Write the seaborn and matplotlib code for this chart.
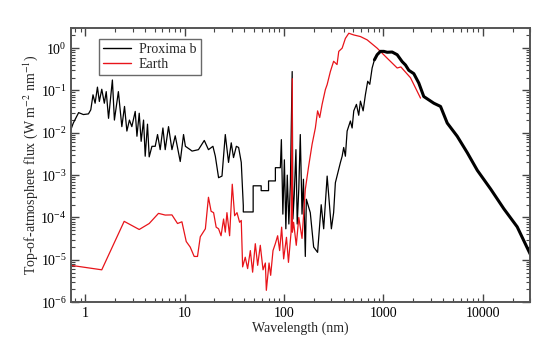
import numpy as np
import pandas as pd
import matplotlib
matplotlib.use("Agg")
import matplotlib.pyplot as plt
import matplotlib.ticker as mticker
import seaborn as sns

# ---- data ----
proxima_wl = [0.72, 0.76, 0.86, 0.96, 1.08, 1.14, 1.20, 1.26, 1.33, 1.39, 1.47, 1.56, 1.63,
              1.72, 1.88, 1.97, 2.16, 2.34, 2.49, 2.63, 2.79, 2.95, 3.19, 3.32, 3.50, 3.66,
              3.87, 4.02, 4.24, 4.41, 4.70, 5.07, 5.35, 5.69, 6.06, 6.39, 6.90, 7.47, 8.06,
              9.05, 9.77, 10.2, 11.4, 11.9, 13.8, 15.8, 17.4, 19.3, 20.4, 22.0, 23.8, 25.7,
              27.7, 29.5, 31.1, 33.2, 35.0, 37.2, 39.0, 39.0, 49.0, 49.0, 59.0, 59.0, 70.0,
              70.0, 82.0, 82.0, 92.0, 94.2, 97.5, 101, 104.5, 108, 112, 116, 121, 123, 127,
              132, 136, 141, 146, 152, 157, 164, 168, 184, 199, 218, 237, 251, 272, 300, 316,
              329, 356, 370, 385, 399, 415, 432, 466, 485, 504, 536, 565, 588, 626, 660, 696,
              730, 771, 813, 866, 935, 1010, 1092, 1226, 1377, 1546, 1670, 1803, 2024, 2272,
              2550, 3220, 3760, 4390, 5530, 6980, 8810, 12000, 16300, 22200, 30300]
proxima_flux = [0.012, 0.017, 0.030, 0.027, 0.028, 0.035, 0.079, 0.050, 0.12, 0.055, 0.107,
                0.050, 0.094, 0.022, 0.177, 0.020, 0.094, 0.014, 0.042, 0.011, 0.020, 0.014,
                0.032, 0.0083, 0.029, 0.0063, 0.020, 0.0028, 0.016, 0.0027, 0.0048, 0.0048,
                0.0091, 0.0040, 0.013, 0.0040, 0.014, 0.0040, 0.0085, 0.0021, 0.0091, 0.0048,
                0.0040, 0.0037, 0.0040, 0.0066, 0.0040, 0.0048, 0.0028, 0.00087, 0.00095,
                0.0091, 0.0020, 0.0058, 0.0026, 0.0048, 0.0045, 0.0020, 0.00019, 0.000135,
                0.000135, 0.00056, 0.00056, 0.00043, 0.00043, 0.00073, 0.00073, 0.0015, 0.0015,
                0.0069, 0.00012, 0.0023, 0.000054, 0.0010, 0.00007, 0.0006, 0.28, 0.000092,
                0.00035, 0.0040, 0.00007, 0.00047, 0.0091, 0.00012, 0.0008, 0.000012, 0.00027,
                0.00013, 0.000020, 0.000015, 0.00020, 0.000054, 0.00095, 0.000054, 0.00013,
                0.00066, 0.0014, 0.0020, 0.0028, 0.0045, 0.0028, 0.011, 0.019, 0.013, 0.033,
                0.047, 0.026, 0.056, 0.033, 0.080, 0.165, 0.14, 0.34, 0.53, 0.70, 0.84, 0.84,
                0.80, 0.81, 0.70, 0.48, 0.40, 0.30, 0.25, 0.15, 0.072, 0.050, 0.042, 0.017,
                0.0083, 0.0034, 0.0013, 0.00047, 0.00016, 0.00006, 0.000013]

earth_wl = [0.72, 1.47, 2.47, 3.50, 4.41, 5.47, 6.39, 7.47, 8.50, 9.41, 10.4, 11.4, 12.5,
            13.5, 14.4, 16.2, 17.4, 18.5, 19.6, 20.8, 22.0, 23.3, 24.7, 25.7, 26.7, 28.4,
            30.2, 31.9, 33.7, 35.8, 37.2, 38.4, 40.8, 43.1, 45.9, 48.4, 51.5, 54.4, 57.8,
            61.6, 65.0, 66.5, 70.8, 73.5, 77.6, 81.9, 86.4, 90.5, 94.8, 99.3, 106, 111, 118,
            121.4, 121.6, 125, 133, 141, 152, 164, 177, 192, 207, 218, 229, 242, 261, 272,
            293, 316, 342, 356, 385, 415, 449, 504, 588, 687, 866, 1092, 1377, 1500, 1875,
            2365]
earth_flux = [7.4e-6, 5.8e-6, 8.1e-5, 5.2e-5, 7.2e-5, 1.25e-4, 1.14e-4, 1.15e-4, 7.2e-5,
              7.9e-5, 2.7e-5, 2.0e-5, 1.2e-5, 1.2e-5, 3.5e-5, 5.4e-5, 3.0e-4, 1.4e-4, 1.3e-4,
              5.9e-5, 5.4e-5, 3.7e-5, 9.2e-5, 4.5e-5, 1.3e-4, 3.7e-5, 6.1e-4, 1.1e-4, 1.3e-4,
              7.7e-5, 8.5e-5, 6.8e-6, 1.15e-5, 6.2e-6, 1.65e-5, 5.1e-6, 2.4e-5, 7.4e-6,
              2.2e-5, 5.8e-6, 8.4e-6, 1.9e-6, 8.4e-6, 4.3e-6, 1.65e-5, 2.4e-5, 3.7e-5,
              1.65e-5, 5.9e-5, 1.05e-5, 3.4e-5, 8.7e-6, 4.5e-5, 0.19, 4.5e-5, 7.7e-5, 2.2e-5,
              1.0e-4, 3.2e-5, 4.6e-4, 1.6e-3, 5.4e-3, 0.013, 0.033, 0.023, 0.047, 0.105,
              0.138, 0.28, 0.49, 0.41, 0.84, 1.0, 1.7, 2.25, 2.05, 1.88, 1.57, 1.0, 0.58,
              0.34, 0.36, 0.20, 0.066]

series_names = ["Proxima b", "Earth"]
series_colors = ["black", "#e8141a"]

df = pd.concat([
    pd.DataFrame({"wl": proxima_wl, "flux": proxima_flux, "series": series_names[0]}),
    pd.DataFrame({"wl": earth_wl, "flux": earth_flux, "series": series_names[1]}),
], ignore_index=True)

sns.set_style("ticks")
plt.rcParams["font.family"] = ["Liberation Serif", "DejaVu Serif"]
plt.rcParams["mathtext.fontset"] = "stix"

fig = plt.figure(figsize=(5.5, 3.41), dpi=100)
ax = fig.add_axes([0.129, 0.114, 0.835, 0.804])

sns.lineplot(data=df, x="wl", y="flux", hue="series", palette=series_colors,
             hue_order=series_names, sort=False, estimator=None, units="series",
             linewidth=0.9, ax=ax)
# thicker high-resolution part of the Proxima b spectrum
thick = df[(df.series == "Proxima b") & (df.wl >= 800)]
sns.lineplot(data=thick, x="wl", y="flux", color="black", sort=False, estimator=None,
             linewidth=2.2, ax=ax, legend=False)

ax.set_xscale("log")
ax.set_yscale("log")
ax.set_xlim(0.72, 30000)
ax.set_ylim(1e-6, 3)

ax.xaxis.set_major_locator(mticker.FixedLocator([1, 10, 100, 1000, 10000]))
ax.xaxis.set_major_formatter(mticker.FuncFormatter(lambda v, p: f"{v:g}"))
ax.xaxis.set_minor_locator(mticker.LogLocator(base=10, subs=np.arange(2, 10), numticks=10))
ax.xaxis.set_minor_formatter(mticker.NullFormatter())
ax.yaxis.set_major_locator(mticker.FixedLocator([1e-6, 1e-5, 1e-4, 1e-3, 1e-2, 1e-1, 1e0]))
ax.yaxis.set_major_formatter(mticker.LogFormatterSciNotation())
ax.yaxis.set_minor_locator(mticker.LogLocator(base=10, subs=np.arange(2, 10), numticks=10))
ax.yaxis.set_minor_formatter(mticker.NullFormatter())

ax.tick_params(which="both", direction="in", top=True, right=True, colors="#444444",
               labelcolor="black", labelsize=10)
ax.tick_params(which="major", length=6, width=1.0)
ax.tick_params(which="minor", length=3, width=0.8)
ax.tick_params(axis="y", which="major", pad=3)
for s in ax.spines.values():
    s.set_color("#555555")
    s.set_linewidth(1.4)

ax.set_xlabel("Wavelength (nm)", fontsize=10, labelpad=1)
ax.set_ylabel("Top-of-atmosphere flux (W m$^{-2}$ nm$^{-1}$)", fontsize=10, labelpad=0)

leg = ax.legend(loc="upper left", bbox_to_anchor=(0.045, 0.985), fontsize=10,
                frameon=True, fancybox=False, edgecolor="#444444", handlelength=2.0,
                borderpad=0.3, labelspacing=0.15, handletextpad=0.6)
leg.get_frame().set_linewidth(1.0)
for line in leg.get_lines():
    line.set_linewidth(1.0)

fig.savefig("out.png", dpi=100)
